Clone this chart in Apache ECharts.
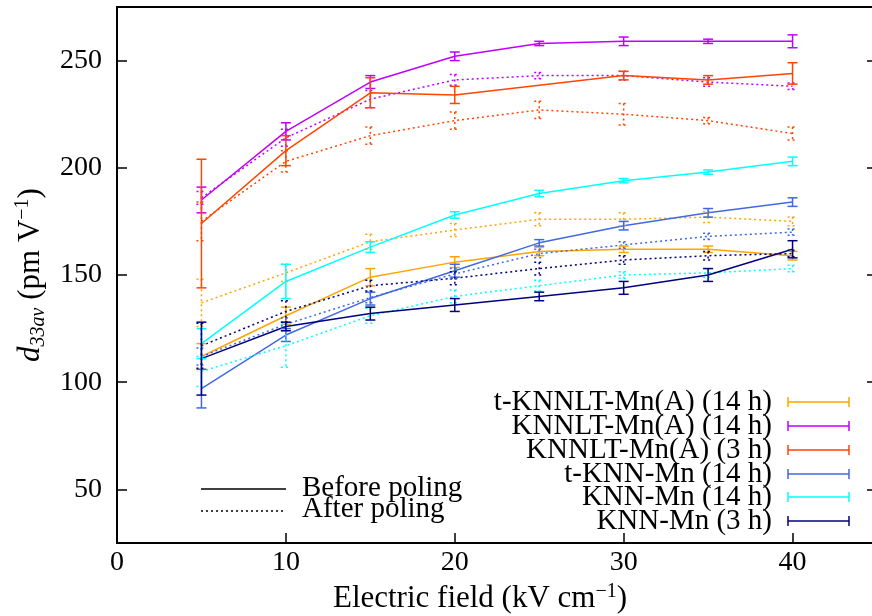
<!DOCTYPE html>
<html>
<head>
<meta charset="utf-8">
<script src="https://cdn.jsdelivr.net/npm/echarts@6/dist/echarts.min.js"></script>
<style>
  html, body { margin: 0; padding: 0; background: #fff; }
  #chart { width: 872px; height: 616px; }
</style>
</head>
<body>
<div id="chart"></div>
<script>
// electric field (kV/cm)
const fieldValues = [5, 10, 15, 20, 25, 30, 35, 40]

// d33av (pm/V), before poling = solid, after poling = dotted
const tKnnltA14Before = [112, 131, 149, 156, 161, 162, 162, 159]
const tKnnltA14BeforeErr = [6, 4, 4, 2.5, 2, 1.5, 1.5, 2]
const tKnnltA14After = [137, 151, 165.5, 171, 176, 176, 177, 175]
const tKnnltA14AfterErr = [11, 4, 3.5, 3, 3, 3, 2.5, 2]

const knnltA14Before = [185, 217, 240, 252, 258, 259, 259, 259]
const knnltA14BeforeErr = [6, 4, 3, 2, 1, 2, 1, 3]
const knnltA14After = [186, 214, 232, 241, 243, 243, 240, 238]
const knnltA14AfterErr = [3, 4, 4, 2.5, 1.5, 2, 2, 1.5]

const knnltA3Before = [174, 208, 235, 234, null, 243, 241, 244]
const knnltA3BeforeErr = [30, 7, 7, 4, null, 2, 2, 5]
const knnltA3After = [175, 203, 215, 222, 227, 225, 222, 216]
const knnltA3AfterErr = [9, 5, 4, 4, 4, 5, 1.5, 3]

const tKnn14Before = [97, 122, 139, 152, 165, 173, 179, 184]
const tKnn14BeforeErr = [9, 3, 3, 3, 1.5, 2, 2, 2]
const tKnn14After = [112, 127, 139.5, 150.5, 160, 164, 168, 170]
const tKnn14AfterErr = [4, 3, 2.5, 2.5, 2, 1.5, 1.5, 1.5]

const knn14Before = [118, 147, 163, 178, 188, 194, 198, 203]
const knn14BeforeErr = [7, 8, 2.5, 1.5, 1.5, 1, 1, 2]
const knn14After = [105, 117, 131, 140, 145, 150, 151, 153]
const knn14AfterErr = [7, 10, 3.5, 3, 2.5, 1.5, 2, 1.5]

const knn3Before = [111, 126, 132, 136, 140, 144, 150, 162]
const knn3BeforeErr = [17, 2, 3, 3, 2, 3, 3, 4]
const knn3After = [117, 133, 145, 148.5, 153, 157, 159, 160]
const knn3AfterErr = [10.5, 5, 2.5, 3, 3, 2, 2, 1.5]

const sampleNames = ['t-KNNLT-Mn(A) (14 h)', 'KNNLT-Mn(A) (14 h)', 'KNNLT-Mn(A) (3 h)', 't-KNN-Mn (14 h)', 'KNN-Mn (14 h)', 'KNN-Mn (3 h)']
const sampleColors = ['#ffa500', '#c000ff', '#ff4500', '#4169e1', '#00ffff', '#000080']
const yTicks = [50, 100, 150, 200, 250]
const xTicks = [0, 10, 20, 30, 40]

const FONT = '"Liberation Serif", "Times New Roman", serif'
const DOT = [2, 3]

const samples = [
  [tKnnltA14Before, tKnnltA14BeforeErr, tKnnltA14After, tKnnltA14AfterErr],
  [knnltA14Before, knnltA14BeforeErr, knnltA14After, knnltA14AfterErr],
  [knnltA3Before, knnltA3BeforeErr, knnltA3After, knnltA3AfterErr],
  [tKnn14Before, tKnn14BeforeErr, tKnn14After, tKnn14AfterErr],
  [knn14Before, knn14BeforeErr, knn14After, knn14AfterErr],
  [knn3Before, knn3BeforeErr, knn3After, knn3AfterErr],
]

const errorRender = (color, dotted) => (params, api) => {
  const x = api.value(0)
  const hi = api.coord([x, api.value(2)])
  const lo = api.coord([x, api.value(1)])
  const hw = 5
  const style = { stroke: color, lineWidth: 1.5, lineDash: dotted ? DOT : null }
  return {
    type: 'group',
    children: [
      { type: 'line', shape: { x1: hi[0], y1: hi[1], x2: lo[0], y2: lo[1] }, style },
      { type: 'line', shape: { x1: hi[0] - hw, y1: hi[1], x2: hi[0] + hw, y2: hi[1] }, style },
      { type: 'line', shape: { x1: lo[0] - hw, y1: lo[1], x2: lo[0] + hw, y2: lo[1] }, style },
    ],
  }
}

const series = []
samples.forEach(([before, beforeErr, after, afterErr], k) => {
  const color = sampleColors[k]
  ;[[before, beforeErr, false], [after, afterErr, true]].forEach(([vals, errs, dotted]) => {
    series.push({
      name: sampleNames[k] + (dotted ? ' after' : ' before'),
      type: 'line',
      data: fieldValues.map((x, i) => [x, vals[i]]).filter((p) => p[1] !== null),
      showSymbol: false,
      lineStyle: { color, width: 1.5, type: dotted ? DOT : 'solid' },
      z: 3,
    })
    series.push({
      type: 'custom',
      renderItem: errorRender(color, dotted),
      encode: { x: 0, y: [1, 2] },
      data: fieldValues
        .map((x, i) => (vals[i] === null ? null : [x, vals[i] - errs[i], vals[i] + errs[i]]))
        .filter((p) => p !== null),
      z: 4,
    })
  })
})

// key in the lower right
const graphics = []
const keyRowY = [402, 426, 450, 474, 497, 521]
sampleNames.forEach((name, k) => {
  const y = keyRowY[k]
  const c = sampleColors[k]
  const st = { stroke: c, lineWidth: 1.5 }
  graphics.push({ type: 'text', x: 772, y, style: { text: name, font: '29px ' + FONT, fill: '#000', textAlign: 'right', textVerticalAlign: 'middle' } })
  graphics.push({ type: 'line', shape: { x1: 788, y1: y, x2: 849, y2: y }, style: st })
  graphics.push({ type: 'line', shape: { x1: 788, y1: y - 5, x2: 788, y2: y + 5 }, style: st })
  graphics.push({ type: 'line', shape: { x1: 849, y1: y - 5, x2: 849, y2: y + 5 }, style: st })
})
graphics.push({ type: 'line', shape: { x1: 201, y1: 489, x2: 286, y2: 489 }, style: { stroke: '#000', lineWidth: 1.5 } })
graphics.push({ type: 'line', shape: { x1: 201, y1: 511, x2: 286, y2: 511 }, style: { stroke: '#000', lineWidth: 1.5, lineDash: DOT } })
graphics.push({ type: 'text', x: 302, y: 488, style: { text: 'Before poling', font: '29px ' + FONT, fill: '#000', textVerticalAlign: 'middle' } })
graphics.push({ type: 'text', x: 302, y: 509, style: { text: 'After poling', font: '29px ' + FONT, fill: '#000', textVerticalAlign: 'middle' } })

const chart = echarts.init(document.getElementById('chart'))
chart.setOption({
  animation: false,
  grid: {
    left: 117, right: -5, top: 7, bottom: 73,
    outerBoundsMode: 'none',
    show: true, borderColor: '#000', borderWidth: 2,
  },
  xAxis: {
    type: 'value',
    min: 0,
    max: 45,
    name: '{n|Electric field (kV cm}{sup|−1}{n|)}',
    nameLocation: 'middle',
    nameGap: 38,
    nameTextStyle: {
      padding: [0, 34, 0, 0],
      rich: {
        n: { fontFamily: FONT, fontSize: 31, color: '#000', lineHeight: 34 },
        sup: { fontFamily: FONT, fontSize: 20, color: '#000', lineHeight: 20, verticalAlign: 'top' },
      },
    },
    axisLine: { lineStyle: { color: '#000', width: 2 } },
    axisTick: { inside: true, length: 10, lineStyle: { color: '#000', width: 1.5 }, customValues: xTicks },
    axisLabel: { fontFamily: FONT, fontSize: 28, color: '#000', margin: 6, customValues: xTicks },
    splitLine: { show: false },
  },
  yAxis: [
    {
      type: 'value',
      min: 25,
      max: 275,
      name: '{d|d}{sub|33av}{n| (pm V}{sup|−1}{n|)}',
      nameLocation: 'middle',
      nameGap: 60,
      nameTextStyle: {
        rich: {
          d: { fontFamily: FONT, fontSize: 31, fontStyle: 'italic', color: '#000', lineHeight: 36 },
          n: { fontFamily: FONT, fontSize: 31, color: '#000', lineHeight: 36 },
          sub: { fontFamily: FONT, fontSize: 20, fontStyle: 'italic', color: '#000', lineHeight: 20, verticalAlign: 'bottom' },
          sup: { fontFamily: FONT, fontSize: 20, color: '#000', lineHeight: 20, verticalAlign: 'top' },
        },
      },
      axisLine: { show: true, lineStyle: { color: '#000', width: 2 } },
      axisTick: { inside: true, length: 10, lineStyle: { color: '#000', width: 1.5 }, customValues: yTicks },
      axisLabel: { fontFamily: FONT, fontSize: 28, color: '#000', margin: 15, customValues: yTicks },
      splitLine: { show: false },
    },
    {
      type: 'value',
      position: 'right',
      min: 25,
      max: 275,
      axisLine: { show: true, lineStyle: { color: '#000', width: 2 } },
      axisTick: { inside: true, length: 10, lineStyle: { color: '#000', width: 1.5 }, customValues: yTicks },
      axisLabel: { show: false },
      splitLine: { show: false },
    },
  ],
  graphic: graphics,
  series,
})
</script>
</body>
</html>
